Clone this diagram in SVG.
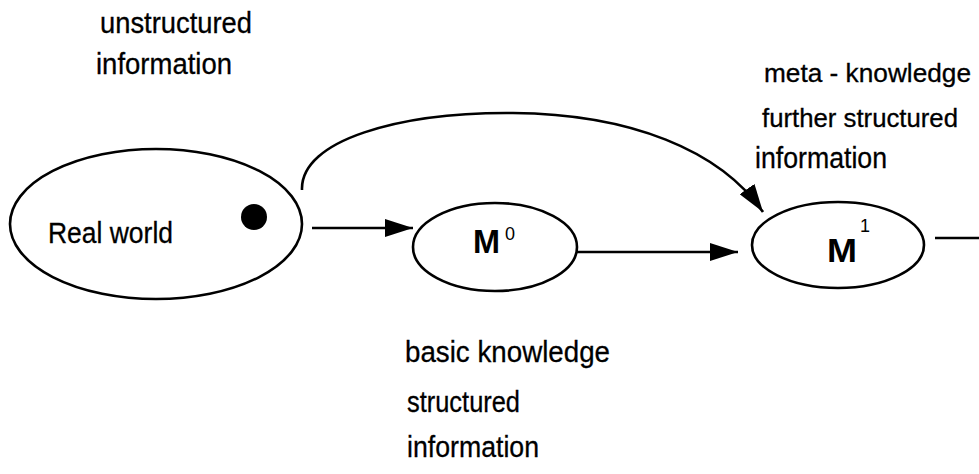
<svg xmlns="http://www.w3.org/2000/svg" width="979" height="474" viewBox="0 0 979 474">
  <style>
    .node { fill: #ffffff; stroke: #000000; stroke-width: 2.6; }
    .edge { fill: none; stroke: #000000; stroke-width: 2.6; }
    .lbl { font-family: "Liberation Sans", Arial, sans-serif; font-size: 30px; fill: #000000; stroke: #000000; stroke-width: 0.3; }
    .lbl.narrow { font-size: 25px; }
    .big { font-family: "Liberation Sans", Arial, sans-serif; font-size: 34px; font-weight: bold; fill: #000000; }
    .sup { font-family: "Liberation Sans", Arial, sans-serif; font-size: 18px; fill: #000000; }
  </style>
  <defs>
    <marker id="arrow" viewBox="0 0 28 18" refX="28" refY="9" markerWidth="28" markerHeight="18" markerUnits="userSpaceOnUse" orient="auto">
      <path d="M0,0 L28,9 L0,18 Z" fill="#000000"/>
    </marker>
  </defs>

  <rect width="979" height="474" fill="#ffffff"/>

  <!-- free labels -->
  <g id="labels">
    <text class="lbl" x="100" y="33" textLength="152" lengthAdjust="spacingAndGlyphs">unstructured</text>
    <text class="lbl" x="96" y="74" textLength="136" lengthAdjust="spacingAndGlyphs">information</text>
    <text class="lbl narrow" x="764" y="82" textLength="207" lengthAdjust="spacingAndGlyphs">meta - knowledge</text>
    <text class="lbl narrow" x="762" y="127" textLength="196" lengthAdjust="spacingAndGlyphs">further structured</text>
    <text class="lbl" x="755" y="168" textLength="132" lengthAdjust="spacingAndGlyphs">information</text>
    <text class="lbl" x="405" y="362" textLength="205" lengthAdjust="spacingAndGlyphs">basic knowledge</text>
    <text class="lbl" x="407" y="412" textLength="113" lengthAdjust="spacingAndGlyphs">structured</text>
    <text class="lbl" x="407" y="457" textLength="132" lengthAdjust="spacingAndGlyphs">information</text>
  </g>

  <!-- connectors -->
  <g id="connectors">
    <path class="edge" d="M312,228 L413,228" marker-end="url(#arrow)"/>
    <path class="edge" d="M577,252 L738,252" marker-end="url(#arrow)"/>
    <path class="edge" d="M302,190 C300,140 400,112 513,113 C630,114 720,150 763,212" marker-end="url(#arrow)"/>
    <path class="edge" d="M935,238 L979,238"/>
  </g>

  <!-- Real world -->
  <g id="real-world">
    <ellipse class="node" cx="156" cy="224" rx="146" ry="75"/>
    <circle cx="254" cy="217" r="13" fill="#000000"/>
    <text class="lbl" x="48" y="243" textLength="125" lengthAdjust="spacingAndGlyphs">Real world</text>
  </g>

  <!-- M0 -->
  <g id="m0">
    <ellipse class="node" cx="495" cy="247" rx="82" ry="44"/>
    <text class="big" x="473" y="253" textLength="27" lengthAdjust="spacingAndGlyphs">M</text>
    <text class="sup" x="505" y="240">0</text>
  </g>

  <!-- M1 -->
  <g id="m1">
    <ellipse class="node" cx="838" cy="245" rx="86" ry="43"/>
    <text class="big" x="827" y="262" textLength="30" lengthAdjust="spacingAndGlyphs">M</text>
    <text class="sup" x="860" y="232">1</text>
  </g>
</svg>
